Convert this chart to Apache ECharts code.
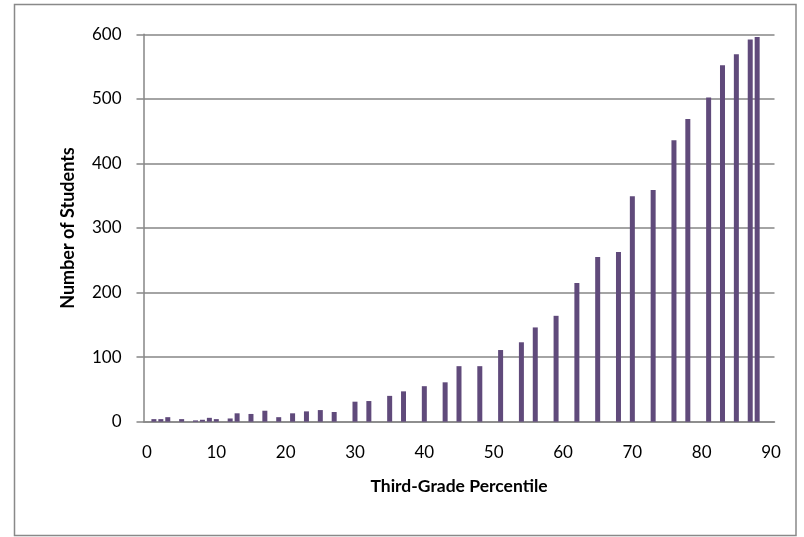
<!DOCTYPE html>
<html>
<head>
<meta charset="utf-8">
<script src="https://cdn.jsdelivr.net/npm/echarts@6/dist/echarts.min.js"></script>
<style>
html,body{margin:0;padding:0;background:#fff;}
#chart{width:804px;height:537px;}
</style>
</head>
<body>
<div id="chart"></div>
<script>
// Data
const percentiles = [1,2,3,5,7,8,9,10,12,13,15,17,19,21,23,25,27,30,32,35,37,40,43,45,48,51,54,56,59,62,65,68,70,73,76,78,81,83,85,87,88];
const students    = [4,4,7,4,2,3,6,4,5,13,12,17,7,13,16,18,15,31,32,40,47,55,61,86,86,111,123,146,164,215,255,263,349,359,436,469,502,552,569,592,596];
const xCategories = Array.from({length: 91}, (_, i) => String(i)); // axis positions 0..90
const yTicks = {min: 0, max: 600, interval: 100};

const values = xCategories.map(() => null);
percentiles.forEach((p, i) => { values[p] = students[i]; });

const font = 'Lato, "Open Sans", sans-serif';
const chart = echarts.init(document.getElementById('chart'));
chart.setOption({
  animation: false,
  backgroundColor: '#ffffff',
  graphic: [{
    type: 'rect',
    shape: {x: 14.5, y: 4.5, width: 781.5, height: 531},
    style: {fill: 'none', stroke: '#898989', lineWidth: 1.5},
    silent: true
  }],
  grid: {left: 143.5, right: 29.5, top: 34.3, bottom: 115.3, containLabel: false},
  xAxis: {
    type: 'category',
    data: xCategories,
    boundaryGap: true,
    name: 'Third-Grade Percentile',
    nameLocation: 'middle',
    nameGap: 56,
    nameTextStyle: {fontFamily: font, fontWeight: 'bold', fontSize: 17.5, color: '#000'},
    axisLine: {lineStyle: {color: '#868686', width: 1.5}},
    axisTick: {show: false},
    axisLabel: {interval: 9, margin: 22, fontFamily: font, fontSize: 17, color: '#000'},
    splitLine: {show: false}
  },
  yAxis: {
    type: 'value',
    min: yTicks.min, max: yTicks.max, interval: yTicks.interval,
    name: 'Number of Students',
    nameLocation: 'middle',
    nameGap: 66,
    nameTextStyle: {fontFamily: font, fontWeight: 'bold', fontSize: 18, color: '#000'},
    axisLine: {show: true, lineStyle: {color: '#868686', width: 1.5}},
    axisTick: {show: true, inside: false, length: 7, lineStyle: {color: '#868686', width: 1.5}},
    axisLabel: {margin: 22, fontFamily: font, fontSize: 17, color: '#000'},
    splitLine: {show: true, lineStyle: {color: '#868686', width: 1.5}}
  },
  series: [{
    type: 'bar',
    data: values,
    barWidth: 5,
    itemStyle: {color: '#604a7b'}
  }]
});
</script>
</body>
</html>
